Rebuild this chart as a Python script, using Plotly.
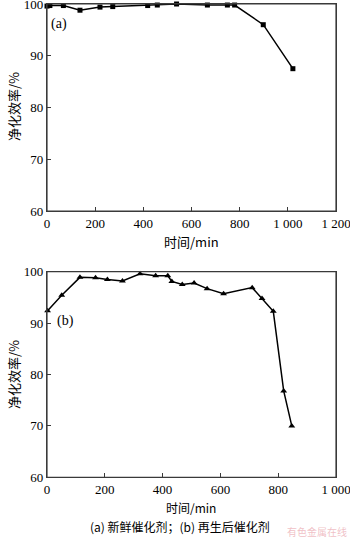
import plotly.graph_objects as go

# (a) fresh catalyst
time_a = [0, 12, 68, 137, 220, 273, 418, 458, 538, 666, 749, 779, 898, 1021]
eff_a = [99.6, 99.7, 99.7, 98.8, 99.4, 99.5, 99.7, 99.8, 100.0, 99.8, 99.8, 99.8, 96.0, 87.5]

# (b) regenerated catalyst
time_b = [2, 51, 114, 168, 209, 261, 322, 376, 418, 432, 468, 509, 554, 611, 710, 744, 783, 819, 847]
eff_b = [92.4, 95.4, 98.9, 98.8, 98.5, 98.2, 99.6, 99.2, 99.2, 98.1, 97.5, 97.8, 96.7, 95.7, 96.9, 94.8, 92.3, 76.8, 70.0]

xticks_a = [0, 200, 400, 600, 800, 1000, 1200]
xtext_a = ["0", "200", "400", "600", "800", "1 000", "1 200"]
xticks_b = [0, 200, 400, 600, 800, 1000]
xtext_b = ["0", "200", "400", "600", "800", "1 000"]
yticks = [60, 70, 80, 90, 100]

W, H = 350, 538
xl, xr = 47 / W, 336 / W
ya = [1 - 211 / H, 1 - 4 / H]
yb = [1 - 477.3 / H, 1 - 271.7 / H]

serif = "Liberation Serif"
cjk = "Noto Sans CJK SC"
axcol = "#3a3a3a"

fig = go.Figure()
fig.add_trace(go.Scatter(x=time_a, y=eff_a, mode="lines+markers",
                         line=dict(color="black", width=1.5),
                         marker=dict(symbol="square", size=5, color="black"),
                         cliponaxis=False, xaxis="x", yaxis="y"))
fig.add_trace(go.Scatter(x=time_b, y=eff_b, mode="lines+markers",
                         line=dict(color="black", width=1.5),
                         marker=dict(symbol="triangle-up", size=6, color="black"),
                         cliponaxis=False, xaxis="x2", yaxis="y2"))

axcommon = dict(showgrid=False, zeroline=False, showline=True, linecolor=axcol,
                linewidth=1.2, mirror=True, ticks="inside", ticklen=4,
                tickcolor=axcol, ticklabeloverflow="allow", automargin=False,
                tickfont=dict(family=serif, size=13, color="black"))

fig.update_layout(
    width=W, height=H, margin=dict(l=0, r=0, t=0, b=0, autoexpand=False),
    paper_bgcolor="white", plot_bgcolor="white", showlegend=False,
    xaxis=dict(domain=[xl, xr], range=[0, 1200], tickvals=xticks_a, ticktext=xtext_a,
               anchor="y", **axcommon),
    yaxis=dict(domain=ya, range=[60, 100], tickvals=yticks, anchor="x", **axcommon),
    xaxis2=dict(domain=[xl, xr], range=[0, 1000], tickvals=xticks_b, ticktext=xtext_b,
                anchor="y2", **axcommon),
    yaxis2=dict(domain=yb, range=[60, 100], tickvals=yticks, anchor="x2", **axcommon),
)

# frame boxes
for xr_, yr_ in (("x", "y"), ("x2", "y2")):
    fig.add_shape(type="rect", xref=f"{xr_} domain", yref=f"{yr_} domain",
                  x0=0, x1=1, y0=0, y1=1, line=dict(color=axcol, width=1.2),
                  fillcolor="rgba(0,0,0,0)", layer="above")

def txt(x, y, s, size=13, family=serif, color="black", angle=0, xanchor="center"):
    fig.add_annotation(x=x / W, y=1 - y / H, xref="paper", yref="paper", text=s,
                       showarrow=False, textangle=angle,
                       font=dict(family=family, size=size, color=color),
                       xanchor=xanchor, yanchor="middle")

txt(59, 24, "(a)", size=14)
txt(65, 321, "(b)", size=14)
txt(13, 107, "净化效率/%", size=13, family=cjk, angle=-90)
txt(13, 375, "净化效率/%", size=13, family=cjk, angle=-90)
txt(191, 241, "时间/min", size=13, family=cjk)
txt(191, 507, "时间/min", size=12, family=cjk)
txt(180, 526, "(a) 新鲜催化剂；(b) 再生后催化剂", size=12, family=cjk)
txt(349, 531, "有色金属在线", size=10, family=cjk, color="rgba(230,150,160,0.6)", xanchor="right")

fig.write_html("out.html", config={"displayModeBar": False},
               post_script="document.body.style.margin='0';document.body.style.overflow='hidden';")
